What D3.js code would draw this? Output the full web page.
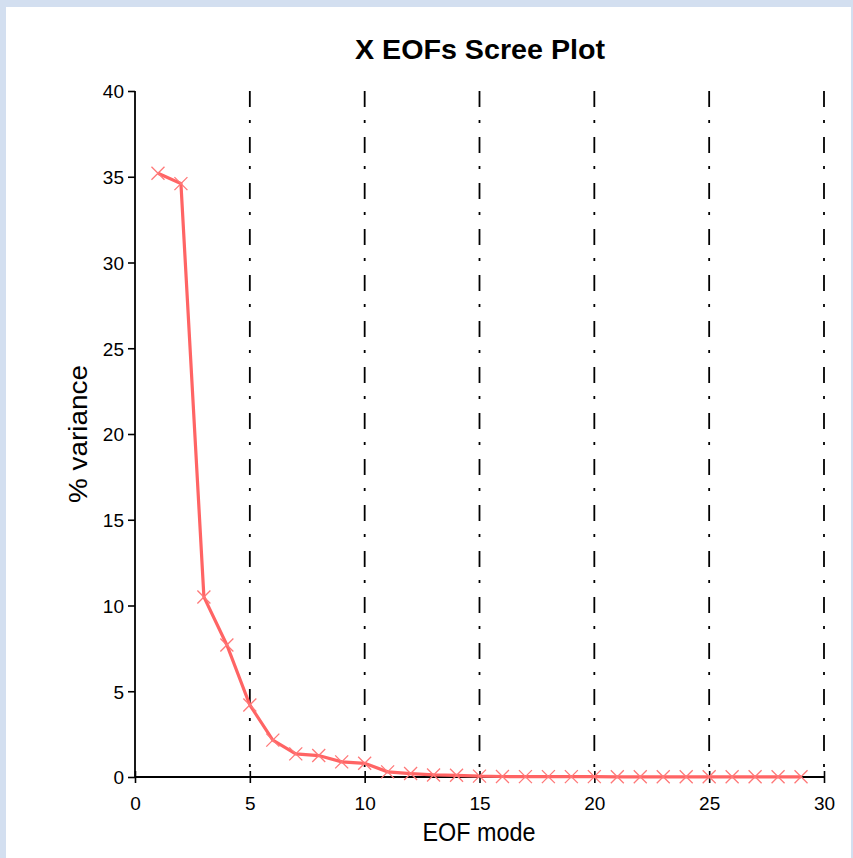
<!DOCTYPE html>
<html>
<head>
<meta charset="utf-8">
<script src="https://cdn.jsdelivr.net/npm/d3@7"></script>
<style>
  body { margin: 0; background: #d3dff0; }
  #chart { position: absolute; left: 6px; top: 7px; width: 845px; height: 851px; background: #fff; }
</style>
</head>
<body>
<div id="chart"></div>
<script>
var modes = d3.range(1, 30);
var variance = [35.2, 34.6, 10.5, 7.7, 4.2, 2.15, 1.35, 1.25, 0.88, 0.8,
  0.3, 0.2, 0.12, 0.1, 0.05, 0.03, 0.02, 0.02, 0.02, 0.02,
  0.01, 0.01, 0.01, 0.01, 0.01, 0.01, 0.01, 0.01, 0.01];
var xTicks = [0, 5, 10, 15, 20, 25, 30];
var yTicks = [0, 5, 10, 15, 20, 25, 30, 35, 40];
var gridAt = [5, 10, 15, 20, 25, 30];

var W = 853, H = 858;
var font = "Liberation Sans, Arial, sans-serif";
var svg = d3.select("body").append("svg")
  .attr("width", W).attr("height", H)
  .style("position", "absolute").style("left", 0).style("top", 0);

var x = d3.scaleLinear().domain([0, 30]).range([135, 824]);
var y = d3.scaleLinear().domain([0, 40]).range([777, 91]);

// dash-dot verticals
svg.selectAll(".grid").data(gridAt).enter().append("line")
  .attr("x1", function (d) { return x(d); })
  .attr("x2", function (d) { return x(d); })
  .attr("y1", y(40)).attr("y2", y(0))
  .style("stroke", "#000").style("stroke-width", 1.8)
  .style("stroke-dasharray", "16,13,3,14");

// y axis
var yAxis = d3.axisLeft(y).tickValues(yTicks).tickSize(7).tickPadding(4);
var gy = svg.append("g").attr("transform", "translate(" + x(0) + ",0)").call(yAxis);
gy.select(".domain").attr("d", "M0," + y(40) + "V" + y(0)).style("stroke-width", 1.8);

// x axis (ticks crossing)
var xAxis = d3.axisBottom(x).tickValues(xTicks).tickSize(6);
var gx = svg.append("g").attr("transform", "translate(0," + y(0) + ")").call(xAxis);
gx.select(".domain").attr("d", "M" + x(0) + ",0H" + x(30)).style("stroke-width", 1.8);
gx.selectAll(".tick line").attr("y1", -6).attr("y2", 6).style("stroke-width", 1.6);
gy.selectAll(".tick line").style("stroke-width", 1.6);

gx.attr("font-size", 19).attr("font-family", font);
gy.attr("font-size", 19).attr("font-family", font);
svg.selectAll(".tick text").attr("fill", "#000");
gy.selectAll(".tick text").attr("dy", "0.36em");
gx.selectAll(".tick text").attr("y", 33).attr("dy", 0);

// series line
var line = d3.line()
  .x(function (d, i) { return x(modes[i]); })
  .y(function (d) { return y(d); });
svg.append("path").datum(variance)
  .attr("d", line)
  .style("fill", "none").style("stroke", "#ff6464").style("stroke-width", 3.2);

// x markers
var s = 6.5;
svg.selectAll(".mk").data(variance).enter().append("path")
  .attr("d", function (d, i) {
    var cx = x(modes[i]), cy = y(d);
    return "M" + (cx - s) + "," + (cy - s) + "L" + (cx + s) + "," + (cy + s) +
      "M" + (cx - s) + "," + (cy + s) + "L" + (cx + s) + "," + (cy - s);
  })
  .style("stroke", "#ff7878").style("stroke-width", 1.3).style("fill", "none");

// title & labels
svg.append("text").attr("x", 480).attr("y", 59)
  .attr("text-anchor", "middle")
  .attr("textLength", 250).attr("lengthAdjust", "spacingAndGlyphs")
  .style("font-family", font)
  .style("font-weight", "bold").style("font-size", "27px")
  .text("X EOFs Scree Plot");

svg.append("text").attr("x", 479).attr("y", 841)
  .attr("text-anchor", "middle")
  .attr("textLength", 113).attr("lengthAdjust", "spacingAndGlyphs")
  .style("font-family", font)
  .style("font-size", "25px")
  .text("EOF mode");

svg.append("text")
  .attr("transform", "translate(87,434) rotate(-90)")
  .attr("text-anchor", "middle")
  .attr("textLength", 138).attr("lengthAdjust", "spacingAndGlyphs")
  .style("font-family", font)
  .style("font-size", "26px")
  .text("% variance");
</script>
</body>
</html>
